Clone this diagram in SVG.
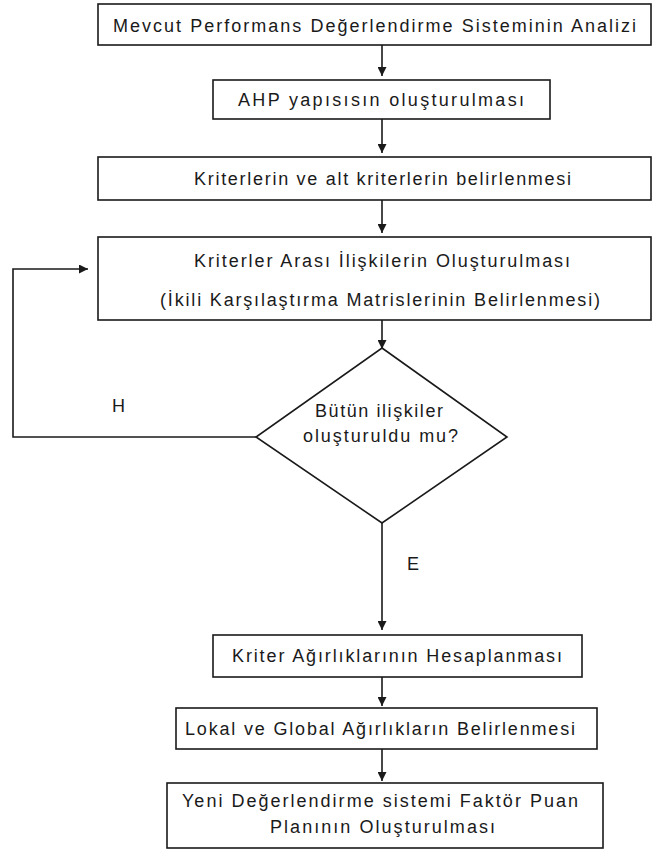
<svg xmlns="http://www.w3.org/2000/svg" width="653" height="853" viewBox="0 0 653 853">
<style>
.box{fill:#fff;stroke:#1a1a1a;stroke-width:1.6}
.ln{fill:none;stroke:#1a1a1a;stroke-width:1.6}
text{font-family:"Liberation Sans",Arial,sans-serif;font-size:18px;fill:#1a1a1a}
</style>
<defs>
<marker id="ah" viewBox="0 0 10 10" refX="10" refY="5" markerWidth="10" markerHeight="9" markerUnits="userSpaceOnUse" orient="auto">
<path d="M0,0 L10,5 L0,10 z" fill="#1a1a1a"/>
</marker>
</defs>
<rect width="653" height="853" fill="#fff"/>
<g id="connectors">
<line class="ln" x1="382" y1="45" x2="382" y2="76" marker-end="url(#ah)"/>
<line class="ln" x1="382" y1="119" x2="382" y2="153" marker-end="url(#ah)"/>
<line class="ln" x1="382" y1="200" x2="382" y2="233" marker-end="url(#ah)"/>
<line class="ln" x1="382" y1="320" x2="382" y2="349" marker-end="url(#ah)"/>
<polyline class="ln" points="256,437 13,437 13,269 88,269" marker-end="url(#ah)"/>
<line class="ln" x1="382" y1="523" x2="382" y2="630" marker-end="url(#ah)"/>
<line class="ln" x1="382" y1="677" x2="382" y2="706" marker-end="url(#ah)"/>
<line class="ln" x1="382" y1="749" x2="382" y2="781" marker-end="url(#ah)"/>
<text x="112" y="412">H</text>
<text x="407" y="570">E</text>
</g>
<g id="n1">
<rect class="box" x="98" y="4" width="553" height="41"/>
<text x="113" y="32" textLength="523" lengthAdjust="spacing">Mevcut Performans Değerlendirme Sisteminin Analizi</text>
</g>
<g id="n2">
<rect class="box" x="213" y="80" width="337" height="39"/>
<text x="238" y="106" textLength="286" lengthAdjust="spacing">AHP yapısısın oluşturulması</text>
</g>
<g id="n3">
<rect class="box" x="98" y="157" width="553" height="43"/>
<text x="194" y="185" textLength="377" lengthAdjust="spacing">Kriterlerin ve alt kriterlerin belirlenmesi</text>
</g>
<g id="n4">
<rect class="box" x="98" y="237" width="553" height="83"/>
<text x="194" y="267" textLength="376" lengthAdjust="spacing">Kriterler Arası İlişkilerin Oluşturulması</text>
<text x="160" y="306" textLength="440" lengthAdjust="spacing">(İkili Karşılaştırma Matrislerinin Belirlenmesi)</text>
</g>
<g id="n5">
<polygon class="box" points="382,348 507,437 382,523 256,437"/>
<text x="315" y="417" textLength="128" lengthAdjust="spacing">Bütün ilişkiler</text>
<text x="303" y="442" textLength="155" lengthAdjust="spacing">oluşturuldu mu?</text>
</g>
<g id="n6">
<rect class="box" x="213" y="635" width="369" height="42"/>
<text x="232" y="662" textLength="330" lengthAdjust="spacing">Kriter Ağırlıklarının Hesaplanması</text>
</g>
<g id="n7">
<rect class="box" x="176" y="708" width="421" height="41"/>
<text x="185" y="735" textLength="390" lengthAdjust="spacing">Lokal ve Global Ağırlıkların Belirlenmesi</text>
</g>
<g id="n8">
<rect class="box" x="167" y="783" width="436" height="65"/>
<text x="182" y="807" textLength="396" lengthAdjust="spacing">Yeni Değerlendirme sistemi Faktör Puan</text>
<text x="270" y="833" textLength="225" lengthAdjust="spacing">Planının Oluşturulması</text>
</g>
</svg>
